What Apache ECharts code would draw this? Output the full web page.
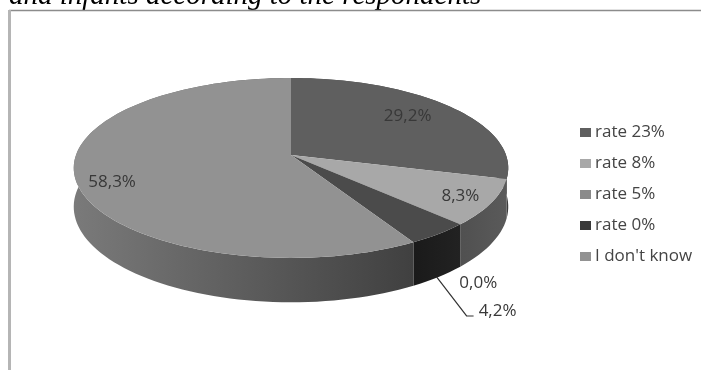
<!DOCTYPE html>
<html>
<head>
<meta charset="utf-8">
<style>html,body{margin:0;padding:0;background:#fff}#c{width:701px;height:370px}</style>
<script src="https://cdn.jsdelivr.net/npm/echarts@6/dist/echarts.min.js"></script>
</head>
<body>
<div id="c"></div>
<script>
const categories = ["rate 23%", "rate 8%", "rate 5%", "rate 0%", "I don't know"];
const values = [29.2, 8.3, 0.0, 4.2, 58.3];
const valueLabels = ["29,2%", "8,3%", "0,0%", "4,2%", "58,3%"];
const titleText = "and infants according to the respondents";

const topColors = ["#5f5f5f", "#a8a8a8", "#8a8a8a", "#4b4b4b", "#929292"];
const wallColors = [["#4d4d4d", "#3c3c3c"], ["#505050", "#5a5a5a"], ["#444", "#444"], ["#1a1a1a", "#222"], ["#7a7a7a", "#404040"]];
const legendColors = ["#5f5f5f", "#a8a8a8", "#8a8a8a", "#3a3a3a", "#929292"];

// perspective ellipse model
const cx = 291, cy = 155, bx = 215, by = 88.1, k = -0.144, depth = 38;
const total = values.reduce((a, b) => a + b, 0);
function project(deg, r) {
  const t = deg * Math.PI / 180, u = r * Math.sin(t), v = -r * Math.cos(t), w = 1 + k * v;
  return { x: cx + bx * u / w, y: cy + by * v / w, w };
}
function startDeg(i) { return values.slice(0, i).reduce((a, b) => a + b, 0) / total * 360; }
function arc(a, b, r) {
  const n = Math.max(2, Math.ceil(Math.abs(b - a) / 2)), pts = [];
  for (let i = 0; i <= n; i++) { const p = project(a + (b - a) * i / n, r); pts.push([p.x, p.y]); }
  return pts;
}
function topItem(i) {
  const a = startDeg(i), b = a + values[i] / total * 360;
  return [[cx, cy]].concat(arc(a, b, 1));
}
function wallItem(i) {
  const a = startDeg(i), b = a + values[i] / total * 360;
  const upper = arc(a, b, 1);
  const lower = upper.map(function (p, j) {
    const d = a + (b - a) * j / (upper.length - 1);
    return [p[0], p[1] + depth / project(d, 1).w];
  }).reverse();
  return upper.concat(lower);
}
const labelPlacement = [
  { r: 0.74, dx: -2, dy: -2 },
  { r: 0.84, dx: 3, dy: 2 },
  { r: 1, dx: 18, dy: 59 },
  { r: 1, dx: 59, dy: 77 },
  { r: 0.83, dx: -1, dy: 8 }
];
function labelPoint(i) {
  const a = startDeg(i), mid = a + values[i] / total * 180, pl = labelPlacement[i], p = project(mid, pl.r);
  return { x: p.x + pl.dx, y: p.y + pl.dy };
}

const wallSeries = {
  type: "custom", name: "walls", coordinateSystem: "none", silent: true, z: 1,
  data: values.map((v, i) => [i, v]),
  renderItem: function (params, api) {
    const i = api.value(0);
    if (api.value(1) <= 0) return { type: "group", children: [] };
    return {
      type: "polygon", shape: { points: wallItem(i) },
      style: {
        fill: new echarts.graphic.LinearGradient(0, 0, 1, 0, [
          { offset: 0, color: wallColors[i][0] }, { offset: 1, color: wallColors[i][1] }
        ])
      }
    };
  }
};
const sliceSeries = categories.map(function (name, i) {
  return {
    type: "custom", name: name, coordinateSystem: "none", silent: true, z: 2,
    itemStyle: { color: legendColors[i] },
    data: [[i, values[i]]],
    renderItem: function (params, api) {
      const idx = api.value(0), kids = [];
      if (api.value(1) > 0) kids.push({ type: "polygon", shape: { points: topItem(idx) }, style: { fill: topColors[idx] } });
      return { type: "group", children: kids };
    }
  };
});
const labelSeries = {
  type: "custom", name: "labels", coordinateSystem: "none", silent: true, z: 3,
  data: values.map((v, i) => [i, v]),
  renderItem: function (params, api) {
    const i = api.value(0), p = labelPoint(i), kids = [];
    kids.push({ type: "text", style: { x: p.x, y: p.y, text: valueLabels[i], fill: "#383838", font: '17px "Open Sans"', textAlign: "center", textVerticalAlign: "middle" } });
    if (categories[i] === "rate 0%") {
      const m = startDeg(i) + values[i] / total * 180, q = project(m, 1), sy = q.y + depth / q.w;
      kids.push({ type: "polyline", shape: { points: [[q.x - 2, sy], [p.x - 31, p.y + 5], [p.x - 24, p.y + 5]] }, style: { stroke: "#333", lineWidth: 1.2, fill: null } });
    }
    return { type: "group", children: kids };
  }
};

const chart = echarts.init(document.getElementById("c"), null, { renderer: "canvas" });
chart.setOption({
  animation: false,
  backgroundColor: "#fff",
  legend: {
    data: categories, orient: "vertical", left: 575, top: 119, itemWidth: 11, itemHeight: 9, itemGap: 14,
    icon: "rect", selectedMode: false,
    textStyle: { fontFamily: "Open Sans", fontSize: 17, color: "#444", padding: [0, 0, 0, -1] }
  },
  graphic: [
    { type: "text", left: 9, top: -18, style: { text: titleText, font: 'italic 29px "Liberation Serif"', fill: "#000" } },
    { type: "line", shape: { x1: 9, y1: 10.5, x2: 701, y2: 10.5 }, style: { stroke: "#8c8c8c", lineWidth: 1.5 } },
    { type: "line", shape: { x1: 9.5, y1: 10, x2: 9.5, y2: 370 }, style: { stroke: "#b5b5b5", lineWidth: 3 } }
  ],
  series: [wallSeries].concat(sliceSeries, [labelSeries])
});
</script>
</body>
</html>
